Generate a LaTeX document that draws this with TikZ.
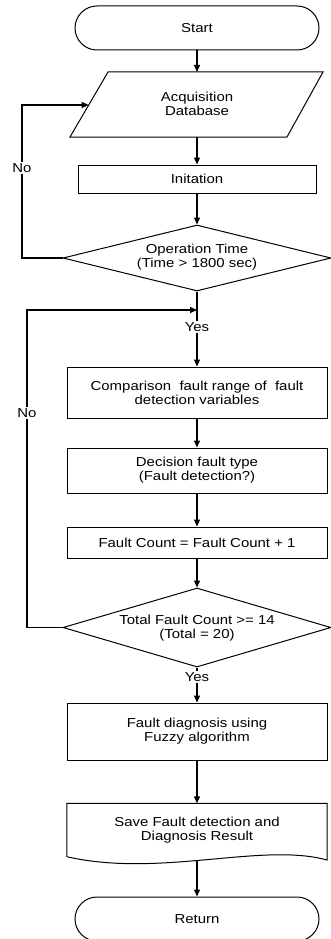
\documentclass[tikz,border=0pt]{standalone}
\usepackage{fontspec}
\setmainfont{Liberation Sans}[FakeStretch=1.15]
\usetikzlibrary{arrows.meta,shapes.misc,shapes.geometric}
\begin{document}
\begin{tikzpicture}[x=1pt,y=-1pt,
  txt/.style={font=\fontsize{13}{14}\selectfont, align=center, inner sep=0pt},
  outl/.style={draw, line width=1pt},
  term/.style={outl, txt, rounded rectangle, minimum width=244pt, minimum height=44pt},
  procbox/.style={outl, txt, rectangle, minimum width=260pt},
  dec/.style={outl, diamond, inner sep=0pt, minimum width=268pt},
  lbl/.style={txt, fill=white, inner sep=1.5pt},
  con/.style={line width=1.3pt},
  arr/.style={con, -{Triangle[length=7pt,width=6pt]}}]
\useasboundingbox (0,0) rectangle (331,939);
% shapes
\node[term] (start) at (197,28) {Start};
\draw[outl] (108,72) -- (323,72) -- (287,137) -- (70,137) -- cycle;
\node[txt] (acq) at (197,104) {Acquisition\\Database};
\coordinate (acqT) at (197,72);
\coordinate (acqB) at (197,137);
\coordinate (acqL) at (88.7,105);
\node[procbox, minimum width=238pt, minimum height=28pt] (init) at (197,179) {Initation};
\node[dec, minimum height=66pt] (d1) at (197,258) {};
\node[txt] (d1t) at (197,257) {Operation Time\\(Time > 1800 sec)};
\node[procbox, minimum height=51pt] (comp) at (197,392.5) {Comparison\ \ fault range of\ \ fault\\detection variables};
\node[procbox, minimum height=45pt] (decf) at (197,470.5) {Decision fault type\\(Fault detection?)};
\node[procbox, minimum height=31pt] (cnt) at (197,542.5) {Fault Count = Fault Count + 1};
\node[dec, minimum height=79pt] (d2) at (197,627.5) {};
\node[txt] (d2t) at (197,628) {Total Fault Count >= 14\\(Total = 20)};
\node[procbox, minimum height=57pt] (diag) at (197,731.5) {Fault diagnosis using\\Fuzzy algorithm};
\node[txt, minimum width=260pt, minimum height=53pt] (save) at (197,830) {Save Fault detection and\\Diagnosis Result};
\draw[outl] (save.south west) -- (save.north west) -- (save.north east) -- (327,860)
  .. controls (262,842) and (160,878) .. (save.south west);
\coordinate (saveB) at (197,860);
\node[term] (ret) at (197,919) {Return};
% labels
\node[lbl] (no1) at (22,168) {No};
\node[lbl] (no2) at (27,413) {No};
\node[lbl] (yes1) at (197,327) {Yes};
\node[lbl] (yes2) at (197,677) {Yes};
\coordinate (j1) at (197,310);
% connectors
\draw[arr] (start.south) -- (acqT);
\draw[arr] (acqB) -- (init.north);
\draw[arr] (init.south) -- (d1.north);
\draw[con] (d1.west) -| (no1.south);
\draw[arr] (no1.north) |- (acqL);
\draw[con] (d1.south) -- (yes1.north);
\draw[arr] (yes1.south) -- (comp.north);
\draw[arr] (comp.south) -- (decf.north);
\draw[arr] (decf.south) -- (cnt.north);
\draw[arr] (cnt.south) -- (d2.north);
\draw[con] (d2.west) -| (no2.south);
\draw[arr] (no2.north) |- (j1);
\draw[con] (d2.south) -- (yes2.north);
\draw[arr] (yes2.south) -- (diag.north);
\draw[arr] (diag.south) -- (save.north);
\draw[arr] (saveB) -- (ret.north);
\end{tikzpicture}
\end{document}
